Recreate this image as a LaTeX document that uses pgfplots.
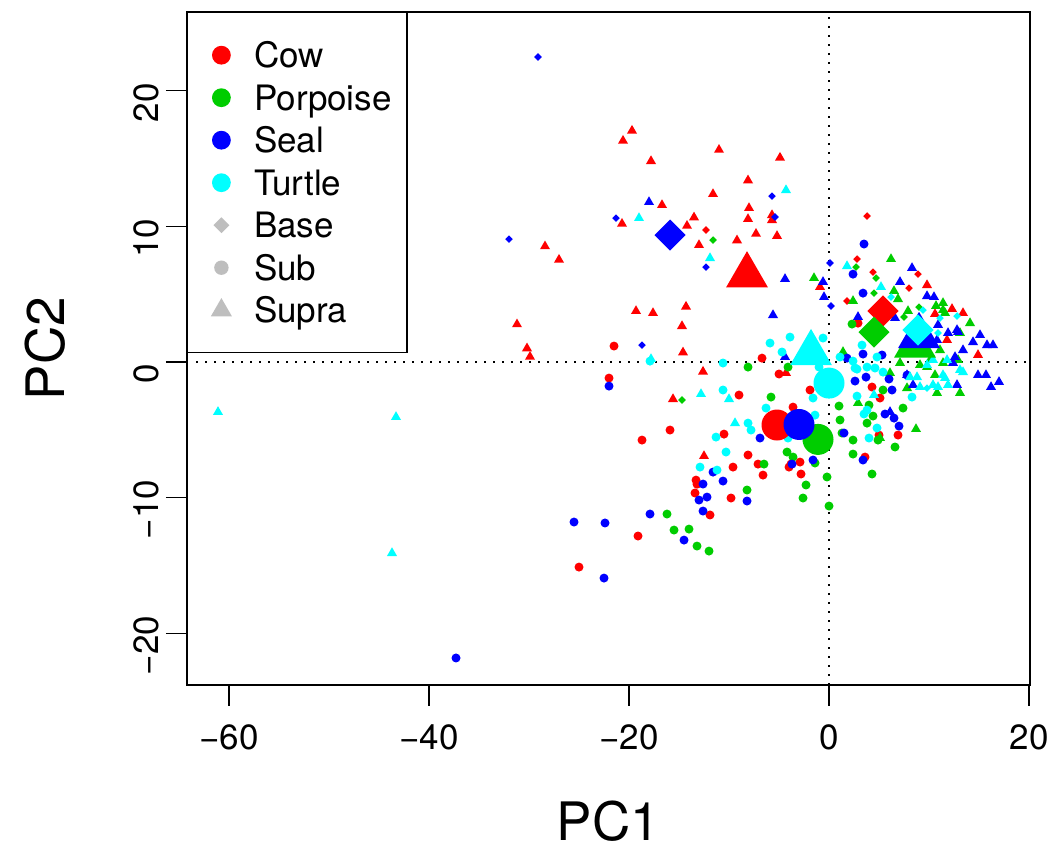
\documentclass[border=0pt]{standalone}
\usepackage{pgfplots}
\pgfplotsset{compat=1.18}
\usepackage{fontspec}
\setmainfont{TeX Gyre Heros}
\definecolor{cow}{RGB}{255,0,0}
\definecolor{por}{RGB}{0,205,0}
\definecolor{seal}{RGB}{0,0,255}
\definecolor{tur}{RGB}{0,255,255}
\definecolor{leg}{RGB}{190,190,190}
\pgfplotsset{
  base/.style={only marks, mark=square*, mark size=1.35pt, mark options={rotate=45, draw opacity=0}, forget plot},
  sub/.style={only marks, mark=*, mark size=2.25pt, mark options={draw opacity=0}, forget plot},
  supra/.style={only marks, mark=triangle*, mark size=2.9pt, mark options={draw opacity=0}, forget plot},
  baseB/.style={only marks, mark=square*, mark size=5.5pt, mark options={rotate=45, draw opacity=0}, forget plot},
  subB/.style={only marks, mark=*, mark size=7.75pt, mark options={draw opacity=0}, forget plot},
  supraB/.style={only marks, mark=triangle*, mark size=12.1pt, mark options={draw opacity=0}, forget plot},
}
\newcommand{\tickfont}{\fontsize{17.5}{20}\selectfont}
\newcommand{\labfont}{\fontsize{26.5}{30}\selectfont}
\begin{document}
\begin{tikzpicture}
\begin{axis}[
  name=ax,
  width=421.5pt, height=336.5pt, scale only axis,
  xmin=-64.2, xmax=20.1, ymin=-23.8, ymax=25.8,
  xtick={-60,-40,-20,0,20}, xticklabels={−60,−40,−20,0,20},
  ytick={-20,-10,0,10,20}, yticklabels={−20,−10,0,10,20},
  tick align=outside, tick pos=left,
  major tick length=10.5pt,
  axis line style={line width=0.7pt},
  tick style={line width=0.6pt, black},
  tick label style={font=\tickfont},
  xticklabel style={yshift=-6pt},
  yticklabel style={rotate=90, anchor=south, xshift=-6pt},
  xlabel={PC1}, ylabel={PC2},
  label style={font=\labfont},
  xlabel style={at={(axis description cs:0.5,-0.2025)}, anchor=center},
  ylabel style={at={(axis description cs:-0.168,0.5)}, anchor=center, rotate=0},
  legend style={at={(axis description cs:0,1)}, anchor=north west,
    draw=black, line width=0.7pt, fill=white,
    inner xsep=8.5pt, inner ysep=13pt,
    row sep=4.75pt, column sep=8pt,
    font=\tickfont,
    nodes={inner sep=0pt, text height=14.5pt, text depth=2pt, text width=68pt, align=left}},
  legend cell align=left,
  clip=true,
]
\addplot[black, line width=0.75pt, dash pattern=on 0.75pt off 3.75pt, forget plot] coordinates {(0,-23.8) (0,25.8)};
\addplot[black, line width=0.75pt, dash pattern=on 0.75pt off 3.75pt, forget plot] coordinates {(-64.2,0) (20.1,0)};

% Cow
\addplot[base, color=cow] coordinates {(-12.3,9.73)(3.8,10.76)(2.8,7.59)(4.4,6.63)(8.9,6.48)(8.0,5.45)(1.8,4.50)};
\addplot[sub, color=cow] coordinates {(-21.5,1.18)(-22.0,-1.18)(-6.7,0.29)(-5.0,-0.88)(-9.0,-2.43)(-15.9,-5.01)(-18.7,-5.75)(-10.5,-5.31)(-8.1,-6.85)(-9.6,-7.74)(-7.1,-7.52)(-6.6,-8.33)(-13.3,-8.70)(-13.4,-9.65)(-9.8,-10.02)(-11.9,-11.27)(-19.1,-12.82)(-25.0,-15.11)(-1.9,-2.06)(-2.9,-7.37)(-3.8,-7.52)(-3.6,-3.32)(-4.0,-7.74)(-2.8,-8.25)(3.6,-7.00)(5.0,-5.38)(6.9,-5.38)(4.3,-1.84)(5.1,-2.65)(2.9,2.87)(-13.2,-9.0)};
\addplot[supra, color=cow] coordinates {(-19.7,17.05)(-20.6,16.31)(-17.8,14.81)(-11.0,15.64)(-4.9,15.06)(-8.1,13.39)(-11.6,12.38)(-16.7,11.57)(-8.0,11.35)(-13.5,10.66)(-20.7,10.19)(-14.2,10.04)(-8.1,10.54)(-5.7,10.83)(-5.7,10.46)(-7.3,9.45)(-5.2,9.29)(-9.2,8.97)(-13.0,8.62)(-28.4,8.53)(-27.0,7.54)(-19.3,3.76)(-17.6,3.61)(-14.3,4.08)(-14.7,2.65)(-31.2,2.78)(-30.2,1.01)(-29.9,0.39)(-14.6,0.71)(-12.6,-0.71)(-15.6,-2.73)(-12.5,-6.93)(-4.3,-0.81)(-0.9,5.53)(9.8,5.67)(12.3,3.91)(13.4,3.61)(10.6,3.54)(11.8,1.62)(14.9,0.52)};

% Porpoise
\addplot[base, color=por] coordinates {(-11.6,8.99)(-14.7,-2.80)(2.7,7.00)(4.7,6.19)(4.5,5.08)(9.0,4.05)(7.5,3.32)};
\addplot[sub, color=por] coordinates {(-4.1,-0.37)(1.0,-3.24)(1.1,-4.27)(1.3,-5.23)(2.4,-5.75)(2.4,-6.78)(3.8,-4.50)(4.0,-3.17)(5.4,-2.06)(7.4,-3.39)(4.4,-3.98)(4.9,-5.75)(6.6,-6.26)(4.3,-8.25)(-4.2,-6.63)(-3.6,-7.00)(-1.4,-7.44)(-0.2,-8.47)(-2.3,-9.06)(-2.6,-10.02)(0.0,-10.61)(-16.2,-11.20)(-15.5,-12.38)(-14.0,-12.31)(-13.2,-13.56)(-12.0,-13.93)(-8.2,-9.43)(-6.5,-7.52)(-5.8,-2.58)(-8.1,-0.37)(2.3,2.80)};
\addplot[supra, color=por] coordinates {(6.2,7.59)(-1.5,6.19)(2.4,4.50)(6.9,4.64)(6.5,5.23)(7.9,3.76)(10.7,4.13)(11.4,4.35)(11.4,3.83)(14.1,2.87)(13.1,2.14)(11.6,3.61)(1.4,0.74)(7.1,-0.07)(9.1,-0.22)(10.1,0.15)(11.1,0.88)(11.4,-0.07)(10.6,-0.96)(10.8,-2.28)(13.1,-2.28)(12.9,0.15)(2.9,-3.02)(6.1,-0.81)(7.8,-1.92)(8.7,-4.94)(9.8,-0.37)(5.1,-5.60)};

% Seal
\addplot[base, color=seal] coordinates {(-29.1,22.48)(-32.0,9.06)(-21.3,10.61)(-5.7,12.23)(-5.4,10.69)(-12.3,7.00)(-18.7,1.25)(0.1,7.30)(0.2,4.13)};
\addplot[sub, color=seal] coordinates {(3.5,8.70)(2.4,6.48)(3.4,5.08)(3.4,0.59)(3.7,-1.11)(2.6,-1.40)(6.0,-1.25)(6.3,-2.06)(7.8,-0.96)(5.6,-3.83)(6.5,-4.13)(7.0,-4.72)(1.5,-5.23)(3.4,-7.22)(-1.6,-7.22)(-3.7,-7.52)(-6.9,-5.60)(-22.0,-1.77)(-12.6,-8.99)(-11.6,-8.11)(-10.6,-8.77)(-12.2,-9.95)(-13.0,-10.17)(-12.6,-10.98)(-8.2,-10.24)(-17.9,-11.20)(-22.4,-11.86)(-25.5,-11.79)(-14.5,-13.12)(-22.5,-15.92)(-37.3,-21.81)(1.8,0.29)(5.3,0.52)};
\addplot[supra, color=seal] coordinates {(14.9,-0.96)(15.7,-0.96)(16.2,-1.84)(17.0,-1.47)(12.8,-1.69)(8.4,-1.69)(6.1,-3.68)(12.4,-0.07)(8.3,6.93)(-4.4,6.12)(-0.5,4.79)(-0.6,5.90)(7.1,5.90)(9.8,4.86)(10.5,4.79)(2.9,3.32)(15.1,1.99)(12.9,2.21)(11.9,2.14)(14.4,1.47)(15.8,1.25)(16.4,1.25)(13.4,0.88)(6.6,3.24)(10.9,2.73)(12.8,2.36)(10.8,1.62)(12.6,0.37)(7.8,-0.96)(-5.6,3.46)(-18.0,11.79)(-4.4,0.37)};

% Turtle
\addplot[base, color=tur] coordinates {(6.2,4.79)(9.4,3.83)(11.1,3.24)(12.8,3.39)(10.9,2.14)(9.8,-1.92)};
\addplot[sub, color=tur] coordinates {(-10.6,-0.07)(-5.9,1.40)(-3.9,1.84)(-4.7,0.74)(-10.6,-2.06)(-6.3,-3.39)(-8.1,-4.50)(-7.8,-5.01)(-11.3,-5.53)(-10.3,-6.63)(-11.2,-7.96)(-12.9,-7.74)(-17.9,0.07)(-0.6,1.77)(3.3,1.25)(1.1,0.37)(2.4,0.07)(4.8,0.37)(2.6,-0.44)(4.6,-0.44)(5.4,-0.74)(-1.0,-0.37)(2.8,-0.52)(3.8,-0.37)(2.8,-2.51)(-1.6,-2.65)(3.8,-3.54)(3.5,-3.83)(4.8,-4.86)(4.0,-5.60)(8.3,-2.58)(-1.4,-3.91)(-4.1,-5.60)};
\addplot[supra, color=tur] coordinates {(-61.1,-3.68)(-43.3,-4.05)(-43.7,-14.08)(-4.3,12.67)(-19.0,10.61)(-11.9,7.66)(-17.8,0.22)(-12.8,-2.36)(-10.0,-2.73)(-9.4,-4.50)(1.8,7.07)(5.2,5.53)(8.1,-1.11)(9.8,-0.22)(10.4,0.15)(11.8,0.15)(13.1,-0.59)(11.6,-1.18)(11.9,-1.69)(10.9,-1.84)(9.1,-1.84)(4.5,-2.43)(8.8,-1.11)(11.4,-0.96)(13.4,-0.74)(10.4,-1.69)};

% centroids
\addplot[baseB, color=cow] coordinates {(5.4,3.76)};
\addplot[subB, color=cow] coordinates {(-5.2,-4.64)};
\addplot[supraB, color=cow] coordinates {(-8.2,6.39)};
\addplot[baseB, color=por] coordinates {(4.5,2.21)};
\addplot[subB, color=por] coordinates {(-1.1,-5.70)};
\addplot[supraB, color=por] coordinates {(8.6,1.22)};
\addplot[baseB, color=seal] coordinates {(-15.9,9.36)};
\addplot[subB, color=seal] coordinates {(-3.0,-4.60)};
\addplot[supraB, color=seal] coordinates {(9.0,1.92)};
\addplot[baseB, color=tur] coordinates {(8.9,2.36)};
\addplot[subB, color=tur] coordinates {(0.0,-1.55)};
\addplot[supraB, color=tur] coordinates {(-1.8,0.66)};

\pgfplotsset{legimg/.style={legend image code/.code={\path (-8pt,0pt) (8pt,0pt); \draw[##1] plot coordinates {(0pt,0pt)};}}}
\addlegendimage{only marks, mark=*, mark size=4.7pt, color=cow, mark options={draw opacity=0}, legimg}
\addlegendentry{Cow}
\addlegendimage{only marks, mark=*, mark size=4.7pt, color=por, mark options={draw opacity=0}, legimg}
\addlegendentry{Porpoise}
\addlegendimage{only marks, mark=*, mark size=4.7pt, color=seal, mark options={draw opacity=0}, legimg}
\addlegendentry{Seal}
\addlegendimage{only marks, mark=*, mark size=4.7pt, color=tur, mark options={draw opacity=0}, legimg}
\addlegendentry{Turtle}
\addlegendimage{only marks, mark=square*, mark size=2.8pt, color=leg, mark options={rotate=45, draw opacity=0}, legimg}
\addlegendentry{Base}
\addlegendimage{only marks, mark=*, mark size=3.6pt, color=leg, mark options={draw opacity=0}, legimg}
\addlegendentry{Sub}
\addlegendimage{only marks, mark=triangle*, mark size=6.06pt, color=leg, mark options={draw opacity=0}, legimg}
\addlegendentry{Supra}
\end{axis}
\path ([shift={(-93.5pt,-84pt)}]ax.south west) rectangle ([shift={(14pt,6pt)}]ax.north east);
\end{tikzpicture}
\end{document}
